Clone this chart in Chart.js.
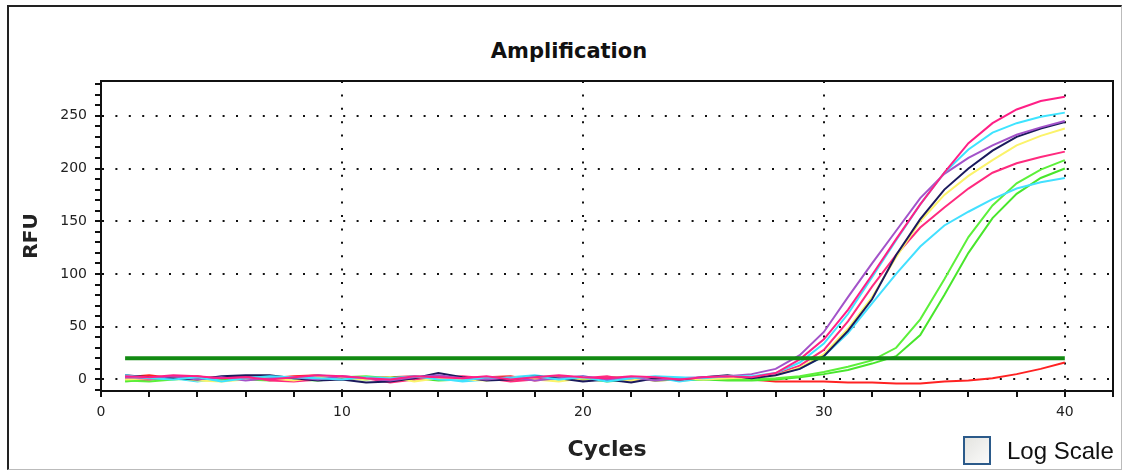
<!DOCTYPE html>
<html>
<head>
<meta charset="utf-8">
<script src="https://cdn.jsdelivr.net/npm/chart.js@4"></script>
<style>
  html, body { margin: 0; padding: 0; background: #fff; }
  #frame {
    position: relative;
    width: 1133px;
    height: 473px;
    overflow: hidden;
  }
  #box {
    position: absolute;
    left: 7px; top: 5px; width: 1115px; height: 465px;
    border-left: 2px solid #222;
    border-top: 2px solid #222;
    border-right: 1px solid #bbb;
    border-bottom: 1px solid #bbb;
    box-sizing: border-box;
  }
  #chart { position: absolute; left: 0; top: 0; }
  #title {
    position: absolute;
    left: 0; width: 1138px; top: 39px;
    text-align: center;
    font: bold 21px/25px "DejaVu Sans", sans-serif;
    color: #111;
  }
  #logscale {
    position: absolute;
    left: 963px; top: 436px;
    font: 24px "Liberation Sans", Arial, sans-serif;
    color: #111;
    display: flex; align-items: center;
  }
  #logscale .cb {
    width: 24px; height: 25px;
    border: 2px solid #2b5a8a;
    background: linear-gradient(135deg, #e4e4e0, #fafafa);
    margin-right: 16px;
  }
</style>
</head>
<body>
<div id="frame">
  <div id="box"></div>
  <div id="title">Amplification</div>
  <canvas id="chart" width="1133" height="473"></canvas>
  <div id="logscale"><div class="cb"></div><span>Log Scale</span></div>
</div>
<script>
  const cycles = [1,2,3,4,5,6,7,8,9,10,11,12,13,14,15,16,17,18,19,20,
                  21,22,23,24,25,26,27,28,29,30,31,32,33,34,35,36,37,38,39,40];

  const pink1  = [3,2,4,3,1,2,0,2,4,3,1,0,3,2,1,3,0,2,4,2,1,3,2,0,2,3,
                  2,6,19,38,66,99,133,166,196,224,243,256,264,268];
  const cyan1  = [4,1,0,2,-2,1,3,2,1,0,2,1,3,0,-1,2,1,3,0,2,-2,1,3,2,1,3,
                  3,6,16,34,62,97,132,166,196,218,234,243,249,253];
  const purple = [2,1,3,0,2,-1,1,2,0,3,1,-1,2,4,1,0,2,-1,1,3,0,2,-1,1,2,3,
                  5,10,23,45,78,110,141,172,195,210,222,232,239,245];
  const navy   = [4,2,1,0,3,4,4,1,-1,0,-3,-2,1,6,2,-1,0,3,1,-2,0,-3,1,0,2,4,
                  1,4,10,22,46,76,118,152,180,200,217,230,238,244];
  const yellow = [0,1,2,-1,-2,0,1,-1,2,1,0,2,-2,1,0,-1,2,0,-2,1,0,-1,2,1,0,1,
                  2,4,11,24,48,78,116,150,175,193,208,222,231,238];
  const pink2  = [1,0,3,1,2,3,-1,-2,0,3,1,-3,0,2,3,1,-2,0,2,1,3,-1,2,0,1,2,
                  2,5,13,28,55,88,118,144,163,181,196,205,211,216];
  const cyan2  = [3,2,1,-2,1,2,3,0,4,2,1,0,3,1,-2,0,2,4,1,3,-1,0,2,-2,1,2,
                  2,5,10,22,44,72,100,126,146,159,171,181,187,191];
  const green1 = [-1,-2,0,1,2,0,-1,1,0,2,3,1,0,2,-1,0,1,2,3,0,2,1,-1,0,1,0,
                  0,1,3,7,12,18,30,57,95,135,165,186,199,208];
  const green2 = [-2,0,1,-1,0,1,2,0,-1,1,0,2,1,-1,0,1,-1,2,0,1,-2,0,1,-1,0,-1,
                  -1,0,2,5,9,15,22,42,80,120,153,176,191,200];
  const red    = [2,4,1,3,0,2,1,3,4,0,1,2,3,1,0,2,3,-1,1,0,2,1,-1,0,1,0,
                  0,-2,-2,-2,-3,-3,-4,-4,-2,-1,1,5,10,16];

  const thresholdCycles = [1, 40];
  const thresholdValues = [20, 20];

  const xTickLabels = [0, 10, 20, 30, 40];
  const yTickLabels = [0, 50, 100, 150, 200, 250];

  function pts(xs, ys) {
    return xs.map((x, i) => ({ x: x, y: ys[i] }));
  }

  function curve(label, values, color) {
    return {
      label: label,
      data: pts(cycles, values),
      borderColor: color,
      borderWidth: 2,
      pointRadius: 0,
      tension: 0,
      fill: false,
    };
  }

  const frameBorder = {
    id: "frameBorder",
    afterDatasetsDraw(chart) {
      const a = chart.chartArea;
      const ctx = chart.ctx;
      ctx.save();
      ctx.strokeStyle = "#111";
      ctx.lineWidth = 2;
      ctx.strokeRect(a.left, a.top, a.right - a.left, a.bottom - a.top);
      ctx.restore();
    },
  };

  const chartEl = document.getElementById("chart");
  new Chart(chartEl, {
    type: "line",
    data: {
      datasets: [
        {
          label: "Threshold",
          data: pts(thresholdCycles, thresholdValues),
          borderColor: "#128a12",
          borderWidth: 4,
          pointRadius: 0,
          fill: false,
        },
        curve("A1", pink1, "#ff1f86"),
        curve("A2", cyan1, "#3ee4ff"),
        curve("A3", purple, "#a353c9"),
        curve("A4", navy, "#1b1a5c"),
        curve("A5", yellow, "#fbf36a"),
        curve("A6", pink2, "#ff2a7e"),
        curve("A7", cyan2, "#43e0ff"),
        curve("A8", green1, "#5cf03a"),
        curve("A9", green2, "#48e62c"),
        curve("A10", red, "#ff2222"),
      ],
    },
    options: {
      responsive: false,
      animation: false,
      layout: { padding: { left: 8, right: 20, top: 81, bottom: 0 } },
      plugins: {
        legend: { display: false },
        tooltip: { enabled: false },
        title: { display: false },
      },
      scales: {
        x: {
          type: "linear",
          min: 0,
          max: 42,
          afterFit(scale) { scale.height = 82; },
          afterBuildTicks(scale) {
            const t = [];
            for (let v = 0; v <= 42; v += 2) t.push({ value: v });
            scale.ticks = t;
          },
          ticks: {
            autoSkip: false,
            maxRotation: 0,
            padding: 7,
            color: "#222",
            font: { family: "DejaVu Sans", size: 14 },
            callback: (v) => (xTickLabels.includes(v) ? String(v) : ""),
          },
          grid: {
            color: (c) => (c.tick && c.tick.value % 10 === 0 && c.tick.value > 0 && c.tick.value < 42 ? "#111" : "rgba(0,0,0,0)"),
            lineWidth: 2,
            tickColor: "#111",
            tickLength: 6,
            tickWidth: 2,
          },
          border: { color: "#111", width: 2, dash: [2, 11.4] },
          title: {
            display: true,
            text: "Cycles",
            color: "#222",
            font: { family: "DejaVu Sans", size: 22, weight: "bold", lineHeight: 1.2 },
            padding: { top: 0, bottom: 10 },
          },
        },
        y: {
          min: -11,
          max: 283,
          afterFit(scale) { scale.width = 93; },
          afterBuildTicks(scale) {
            const t = [];
            for (let v = -10; v <= 280; v += 10) t.push({ value: v });
            scale.ticks = t;
          },
          ticks: {
            autoSkip: false,
            padding: 8,
            color: "#222",
            font: { family: "DejaVu Sans", size: 14 },
            callback: (v) => (yTickLabels.includes(v) ? String(v) : ""),
          },
          grid: {
            color: (c) => (c.tick && c.tick.value % 50 === 0 && c.tick.value >= 0 ? "#111" : "rgba(0,0,0,0)"),
            lineWidth: 2,
            tickColor: "#111",
            tickLength: 6,
            tickWidth: 2,
          },
          border: { color: "#111", width: 2, dash: [2, 11.4] },
          title: {
            display: true,
            text: "RFU",
            color: "#222",
            font: { family: "DejaVu Sans", size: 20, weight: "bold", lineHeight: 1.2 },
            padding: { top: 12, bottom: 0 },
          },
        },
      },
    },
    plugins: [frameBorder],
  });
</script>
</body>
</html>
